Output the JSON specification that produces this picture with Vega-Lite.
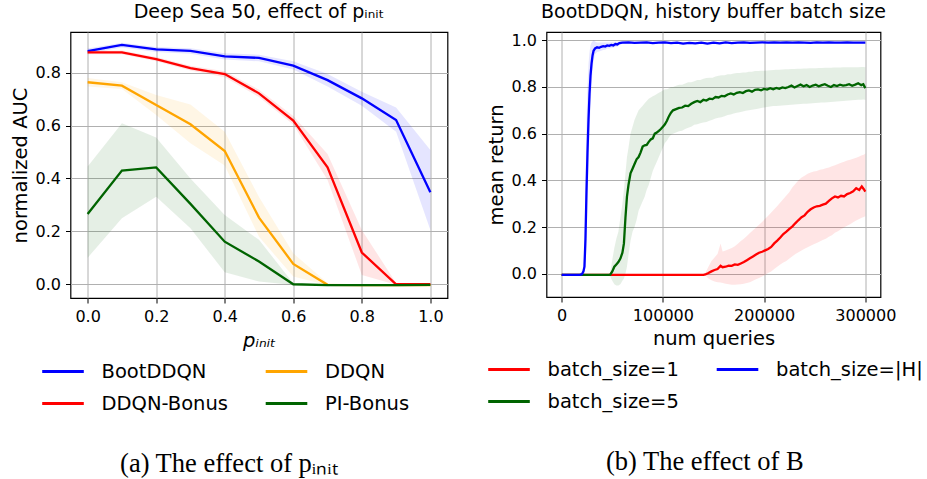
{
  "$schema": "https://vega.github.io/schema/vega-lite/v6.json",
  "padding": {"left": 8.5, "top": 2, "right": 1, "bottom": 2},
  "background": "white",
  "spacing": 36,
  "resolve": {"scale": {"color": "independent", "fill": "independent", "x": "independent", "y": "independent"}, "legend": {"color": "independent", "fill": "independent"}},
  "config": {
    "font": "DejaVu Sans",
    "view": {"stroke": "black", "strokeWidth": 1.2},
    "axis": {
      "labelFont": "DejaVu Sans", "labelFontSize": 16, "labelColor": "black",
      "titleFont": "DejaVu Sans", "titleFontSize": 19.5, "titleFontWeight": "normal", "titleColor": "black",
      "tickColor": "black", "tickSize": 5, "tickWidth": 1, "labelPadding": 5,
      "grid": true, "gridColor": "#b0b0b0", "gridWidth": 1, "domain": false, "labelOverlap": false
    },
    "legend": {
      "labelFont": "DejaVu Sans", "labelFontSize": 19.5, "labelColor": "black",
      "symbolType": "stroke", "symbolSize": 1730, "symbolStrokeWidth": 3, "labelOffset": 16,
      "rowPadding": -16, "columnPadding": 30.5, "columns": 2
    },
    "title": {"font": "DejaVu Sans", "fontSize": 19, "fontWeight": "normal", "color": "black"}
  },
  "datasets": {
    "left": [
      {"m":"BootDDQN","p":0.0,"y":0.882,"lo":0.872,"hi":0.892},
      {"m":"BootDDQN","p":0.1,"y":0.905,"lo":0.895,"hi":0.913},
      {"m":"BootDDQN","p":0.2,"y":0.888,"lo":0.878,"hi":0.897},
      {"m":"BootDDQN","p":0.3,"y":0.883,"lo":0.872,"hi":0.893},
      {"m":"BootDDQN","p":0.4,"y":0.862,"lo":0.850,"hi":0.874},
      {"m":"BootDDQN","p":0.5,"y":0.856,"lo":0.843,"hi":0.868},
      {"m":"BootDDQN","p":0.6,"y":0.827,"lo":0.812,"hi":0.843},
      {"m":"BootDDQN","p":0.7,"y":0.772,"lo":0.748,"hi":0.795},
      {"m":"BootDDQN","p":0.8,"y":0.703,"lo":0.675,"hi":0.728},
      {"m":"BootDDQN","p":0.9,"y":0.621,"lo":0.577,"hi":0.668},
      {"m":"BootDDQN","p":1.0,"y":0.348,"lo":0.205,"hi":0.508},
      {"m":"DDQN-Bonus","p":0.0,"y":0.877,"lo":0.870,"hi":0.884},
      {"m":"DDQN-Bonus","p":0.1,"y":0.877,"lo":0.870,"hi":0.884},
      {"m":"DDQN-Bonus","p":0.2,"y":0.851,"lo":0.843,"hi":0.859},
      {"m":"DDQN-Bonus","p":0.3,"y":0.817,"lo":0.808,"hi":0.826},
      {"m":"DDQN-Bonus","p":0.4,"y":0.795,"lo":0.783,"hi":0.806},
      {"m":"DDQN-Bonus","p":0.5,"y":0.722,"lo":0.708,"hi":0.736},
      {"m":"DDQN-Bonus","p":0.6,"y":0.619,"lo":0.604,"hi":0.636},
      {"m":"DDQN-Bonus","p":0.7,"y":0.442,"lo":0.394,"hi":0.493},
      {"m":"DDQN-Bonus","p":0.8,"y":0.120,"lo":0.035,"hi":0.205},
      {"m":"DDQN-Bonus","p":0.9,"y":0.000,"lo":-0.002,"hi":0.005},
      {"m":"DDQN-Bonus","p":1.0,"y":0.000,"lo":-0.001,"hi":0.003},
      {"m":"DDQN","p":0.0,"y":0.764,"lo":0.748,"hi":0.780},
      {"m":"DDQN","p":0.1,"y":0.751,"lo":0.738,"hi":0.764},
      {"m":"DDQN","p":0.2,"y":0.678,"lo":0.640,"hi":0.716},
      {"m":"DDQN","p":0.3,"y":0.605,"lo":0.533,"hi":0.680},
      {"m":"DDQN","p":0.4,"y":0.504,"lo":0.449,"hi":0.577},
      {"m":"DDQN","p":0.5,"y":0.252,"lo":0.180,"hi":0.330},
      {"m":"DDQN","p":0.6,"y":0.077,"lo":0.029,"hi":0.117},
      {"m":"DDQN","p":0.7,"y":-0.002,"lo":-0.004,"hi":0.005},
      {"m":"DDQN","p":0.8,"y":-0.003,"lo":-0.004,"hi":-0.002},
      {"m":"DDQN","p":0.9,"y":-0.003,"lo":-0.004,"hi":-0.002},
      {"m":"DDQN","p":1.0,"y":-0.003,"lo":-0.004,"hi":-0.002},
      {"m":"PI-Bonus","p":0.0,"y":0.266,"lo":0.100,"hi":0.445},
      {"m":"PI-Bonus","p":0.1,"y":0.430,"lo":0.250,"hi":0.609},
      {"m":"PI-Bonus","p":0.2,"y":0.442,"lo":0.331,"hi":0.555},
      {"m":"PI-Bonus","p":0.3,"y":0.304,"lo":0.212,"hi":0.400},
      {"m":"PI-Bonus","p":0.4,"y":0.161,"lo":0.045,"hi":0.262},
      {"m":"PI-Bonus","p":0.5,"y":0.086,"lo":0.010,"hi":0.168},
      {"m":"PI-Bonus","p":0.6,"y":0.000,"lo":-0.003,"hi":0.004},
      {"m":"PI-Bonus","p":0.7,"y":-0.003,"lo":-0.004,"hi":-0.002},
      {"m":"PI-Bonus","p":0.8,"y":-0.003,"lo":-0.004,"hi":-0.002},
      {"m":"PI-Bonus","p":0.9,"y":-0.003,"lo":-0.004,"hi":-0.002},
      {"m":"PI-Bonus","p":1.0,"y":-0.002,"lo":-0.003,"hi":-0.001}
    ],
    "right": [
      {"s":"batch_size=1","x":0,"y":-0.005,"lo":-0.006,"hi":-0.004},
      {"s":"batch_size=1","x":50000,"y":-0.005,"lo":-0.006,"hi":-0.004},
      {"s":"batch_size=1","x":100000,"y":-0.005,"lo":-0.006,"hi":-0.004},
      {"s":"batch_size=1","x":140000,"y":-0.005,"lo":-0.006,"hi":-0.004},
      {"s":"batch_size=1","x":142000,"y":-0.003,"lo":-0.008,"hi":0.004},
      {"s":"batch_size=1","x":145000,"y":0.003,"lo":-0.02,"hi":0.03},
      {"s":"batch_size=1","x":148000,"y":0.01,"lo":-0.028,"hi":0.055},
      {"s":"batch_size=1","x":151000,"y":0.016,"lo":-0.033,"hi":0.07},
      {"s":"batch_size=1","x":154000,"y":0.02,"lo":-0.036,"hi":0.085},
      {"s":"batch_size=1","x":157000,"y":0.034,"lo":-0.038,"hi":0.13},
      {"s":"batch_size=1","x":159000,"y":0.028,"lo":-0.04,"hi":0.095},
      {"s":"batch_size=1","x":162000,"y":0.03,"lo":-0.043,"hi":0.1},
      {"s":"batch_size=1","x":165000,"y":0.035,"lo":-0.045,"hi":0.105},
      {"s":"batch_size=1","x":168000,"y":0.034,"lo":-0.047,"hi":0.11},
      {"s":"batch_size=1","x":171000,"y":0.04,"lo":-0.047,"hi":0.118},
      {"s":"batch_size=1","x":174000,"y":0.038,"lo":-0.046,"hi":0.128},
      {"s":"batch_size=1","x":177000,"y":0.044,"lo":-0.045,"hi":0.14},
      {"s":"batch_size=1","x":180000,"y":0.05,"lo":-0.043,"hi":0.15},
      {"s":"batch_size=1","x":183000,"y":0.058,"lo":-0.04,"hi":0.162},
      {"s":"batch_size=1","x":186000,"y":0.066,"lo":-0.036,"hi":0.174},
      {"s":"batch_size=1","x":189000,"y":0.074,"lo":-0.03,"hi":0.186},
      {"s":"batch_size=1","x":192000,"y":0.082,"lo":-0.024,"hi":0.198},
      {"s":"batch_size=1","x":195000,"y":0.09,"lo":-0.018,"hi":0.21},
      {"s":"batch_size=1","x":198000,"y":0.094,"lo":-0.012,"hi":0.222},
      {"s":"batch_size=1","x":201000,"y":0.1,"lo":-0.005,"hi":0.235},
      {"s":"batch_size=1","x":204000,"y":0.106,"lo":0.003,"hi":0.248},
      {"s":"batch_size=1","x":207000,"y":0.115,"lo":0.01,"hi":0.262},
      {"s":"batch_size=1","x":210000,"y":0.13,"lo":0.02,"hi":0.276},
      {"s":"batch_size=1","x":213000,"y":0.142,"lo":0.03,"hi":0.29},
      {"s":"batch_size=1","x":216000,"y":0.155,"lo":0.04,"hi":0.305},
      {"s":"batch_size=1","x":219000,"y":0.17,"lo":0.048,"hi":0.32},
      {"s":"batch_size=1","x":222000,"y":0.18,"lo":0.055,"hi":0.335},
      {"s":"batch_size=1","x":225000,"y":0.192,"lo":0.065,"hi":0.35},
      {"s":"batch_size=1","x":228000,"y":0.203,"lo":0.075,"hi":0.37},
      {"s":"batch_size=1","x":231000,"y":0.217,"lo":0.085,"hi":0.385},
      {"s":"batch_size=1","x":234000,"y":0.23,"lo":0.092,"hi":0.4},
      {"s":"batch_size=1","x":237000,"y":0.242,"lo":0.1,"hi":0.412},
      {"s":"batch_size=1","x":240000,"y":0.25,"lo":0.107,"hi":0.42},
      {"s":"batch_size=1","x":243000,"y":0.265,"lo":0.113,"hi":0.428},
      {"s":"batch_size=1","x":246000,"y":0.276,"lo":0.12,"hi":0.434},
      {"s":"batch_size=1","x":249000,"y":0.284,"lo":0.126,"hi":0.438},
      {"s":"batch_size=1","x":252000,"y":0.289,"lo":0.132,"hi":0.44},
      {"s":"batch_size=1","x":255000,"y":0.291,"lo":0.138,"hi":0.445},
      {"s":"batch_size=1","x":258000,"y":0.296,"lo":0.145,"hi":0.448},
      {"s":"batch_size=1","x":261000,"y":0.3,"lo":0.15,"hi":0.452},
      {"s":"batch_size=1","x":264000,"y":0.312,"lo":0.158,"hi":0.455},
      {"s":"batch_size=1","x":267000,"y":0.323,"lo":0.165,"hi":0.46},
      {"s":"batch_size=1","x":270000,"y":0.331,"lo":0.175,"hi":0.465},
      {"s":"batch_size=1","x":273000,"y":0.327,"lo":0.182,"hi":0.47},
      {"s":"batch_size=1","x":276000,"y":0.334,"lo":0.19,"hi":0.475},
      {"s":"batch_size=1","x":279000,"y":0.331,"lo":0.198,"hi":0.48},
      {"s":"batch_size=1","x":282000,"y":0.341,"lo":0.205,"hi":0.485},
      {"s":"batch_size=1","x":285000,"y":0.346,"lo":0.212,"hi":0.488},
      {"s":"batch_size=1","x":288000,"y":0.353,"lo":0.22,"hi":0.492},
      {"s":"batch_size=1","x":291000,"y":0.366,"lo":0.228,"hi":0.497},
      {"s":"batch_size=1","x":294000,"y":0.359,"lo":0.234,"hi":0.502},
      {"s":"batch_size=1","x":296500,"y":0.374,"lo":0.24,"hi":0.507},
      {"s":"batch_size=1","x":298500,"y":0.362,"lo":0.243,"hi":0.51},
      {"s":"batch_size=1","x":300000,"y":0.352,"lo":0.246,"hi":0.515},
      {"s":"batch_size=5","x":0,"y":-0.005,"lo":-0.006,"hi":-0.004},
      {"s":"batch_size=5","x":20000,"y":-0.005,"lo":-0.006,"hi":-0.004},
      {"s":"batch_size=5","x":40000,"y":-0.005,"lo":-0.006,"hi":-0.004},
      {"s":"batch_size=5","x":46000,"y":-0.005,"lo":-0.008,"hi":-0.002},
      {"s":"batch_size=5","x":48000,"y":-0.004,"lo":-0.012,"hi":0.005},
      {"s":"batch_size=5","x":50000,"y":0.01,"lo":-0.03,"hi":0.06},
      {"s":"batch_size=5","x":52000,"y":0.03,"lo":-0.045,"hi":0.11},
      {"s":"batch_size=5","x":54000,"y":0.04,"lo":-0.05,"hi":0.15},
      {"s":"batch_size=5","x":56000,"y":0.05,"lo":-0.05,"hi":0.18},
      {"s":"batch_size=5","x":58000,"y":0.065,"lo":-0.045,"hi":0.24},
      {"s":"batch_size=5","x":60000,"y":0.09,"lo":-0.03,"hi":0.3},
      {"s":"batch_size=5","x":61500,"y":0.13,"lo":-0.02,"hi":0.36},
      {"s":"batch_size=5","x":63000,"y":0.24,"lo":0.0,"hi":0.43},
      {"s":"batch_size=5","x":64500,"y":0.33,"lo":0.03,"hi":0.5},
      {"s":"batch_size=5","x":66000,"y":0.38,"lo":0.08,"hi":0.54},
      {"s":"batch_size=5","x":68000,"y":0.43,"lo":0.14,"hi":0.6},
      {"s":"batch_size=5","x":70000,"y":0.45,"lo":0.18,"hi":0.63},
      {"s":"batch_size=5","x":72000,"y":0.47,"lo":0.2,"hi":0.66},
      {"s":"batch_size=5","x":74000,"y":0.49,"lo":0.23,"hi":0.68},
      {"s":"batch_size=5","x":76000,"y":0.5,"lo":0.27,"hi":0.7},
      {"s":"batch_size=5","x":78000,"y":0.52,"lo":0.29,"hi":0.71},
      {"s":"batch_size=5","x":80000,"y":0.545,"lo":0.31,"hi":0.72},
      {"s":"batch_size=5","x":82000,"y":0.55,"lo":0.33,"hi":0.73},
      {"s":"batch_size=5","x":84000,"y":0.552,"lo":0.36,"hi":0.74},
      {"s":"batch_size=5","x":86000,"y":0.565,"lo":0.38,"hi":0.75},
      {"s":"batch_size=5","x":88000,"y":0.575,"lo":0.41,"hi":0.755},
      {"s":"batch_size=5","x":90000,"y":0.58,"lo":0.44,"hi":0.76},
      {"s":"batch_size=5","x":92000,"y":0.6,"lo":0.46,"hi":0.765},
      {"s":"batch_size=5","x":94000,"y":0.605,"lo":0.48,"hi":0.77},
      {"s":"batch_size=5","x":96000,"y":0.612,"lo":0.5,"hi":0.775},
      {"s":"batch_size=5","x":98000,"y":0.62,"lo":0.52,"hi":0.78},
      {"s":"batch_size=5","x":100000,"y":0.63,"lo":0.54,"hi":0.785},
      {"s":"batch_size=5","x":102000,"y":0.64,"lo":0.56,"hi":0.79},
      {"s":"batch_size=5","x":104000,"y":0.655,"lo":0.57,"hi":0.79},
      {"s":"batch_size=5","x":106000,"y":0.675,"lo":0.585,"hi":0.795},
      {"s":"batch_size=5","x":108000,"y":0.69,"lo":0.595,"hi":0.8},
      {"s":"batch_size=5","x":110000,"y":0.7,"lo":0.6,"hi":0.8},
      {"s":"batch_size=5","x":113000,"y":0.705,"lo":0.605,"hi":0.805},
      {"s":"batch_size=5","x":116000,"y":0.71,"lo":0.61,"hi":0.81},
      {"s":"batch_size=5","x":119000,"y":0.712,"lo":0.612,"hi":0.81},
      {"s":"batch_size=5","x":122000,"y":0.72,"lo":0.62,"hi":0.815},
      {"s":"batch_size=5","x":125000,"y":0.718,"lo":0.625,"hi":0.82},
      {"s":"batch_size=5","x":128000,"y":0.728,"lo":0.63,"hi":0.82},
      {"s":"batch_size=5","x":131000,"y":0.735,"lo":0.638,"hi":0.825},
      {"s":"batch_size=5","x":134000,"y":0.74,"lo":0.64,"hi":0.83},
      {"s":"batch_size=5","x":137000,"y":0.735,"lo":0.645,"hi":0.83},
      {"s":"batch_size=5","x":140000,"y":0.745,"lo":0.648,"hi":0.835},
      {"s":"batch_size=5","x":143000,"y":0.742,"lo":0.65,"hi":0.838},
      {"s":"batch_size=5","x":146000,"y":0.75,"lo":0.655,"hi":0.84},
      {"s":"batch_size=5","x":149000,"y":0.748,"lo":0.66,"hi":0.84},
      {"s":"batch_size=5","x":152000,"y":0.757,"lo":0.665,"hi":0.845},
      {"s":"batch_size=5","x":155000,"y":0.755,"lo":0.668,"hi":0.848},
      {"s":"batch_size=5","x":158000,"y":0.762,"lo":0.67,"hi":0.85},
      {"s":"batch_size=5","x":161000,"y":0.76,"lo":0.675,"hi":0.85},
      {"s":"batch_size=5","x":164000,"y":0.768,"lo":0.68,"hi":0.855},
      {"s":"batch_size=5","x":167000,"y":0.772,"lo":0.682,"hi":0.855},
      {"s":"batch_size=5","x":170000,"y":0.768,"lo":0.686,"hi":0.858},
      {"s":"batch_size=5","x":173000,"y":0.775,"lo":0.69,"hi":0.86},
      {"s":"batch_size=5","x":176000,"y":0.778,"lo":0.692,"hi":0.86},
      {"s":"batch_size=5","x":179000,"y":0.774,"lo":0.695,"hi":0.862},
      {"s":"batch_size=5","x":182000,"y":0.782,"lo":0.698,"hi":0.862},
      {"s":"batch_size=5","x":185000,"y":0.785,"lo":0.7,"hi":0.865},
      {"s":"batch_size=5","x":188000,"y":0.78,"lo":0.702,"hi":0.865},
      {"s":"batch_size=5","x":191000,"y":0.788,"lo":0.705,"hi":0.868},
      {"s":"batch_size=5","x":194000,"y":0.79,"lo":0.707,"hi":0.868},
      {"s":"batch_size=5","x":197000,"y":0.786,"lo":0.71,"hi":0.87},
      {"s":"batch_size=5","x":200000,"y":0.792,"lo":0.712,"hi":0.87},
      {"s":"batch_size=5","x":203000,"y":0.789,"lo":0.714,"hi":0.871},
      {"s":"batch_size=5","x":206000,"y":0.795,"lo":0.716,"hi":0.872},
      {"s":"batch_size=5","x":209000,"y":0.79,"lo":0.718,"hi":0.873},
      {"s":"batch_size=5","x":212000,"y":0.796,"lo":0.718,"hi":0.874},
      {"s":"batch_size=5","x":215000,"y":0.792,"lo":0.72,"hi":0.874},
      {"s":"batch_size=5","x":218000,"y":0.798,"lo":0.721,"hi":0.875},
      {"s":"batch_size=5","x":221000,"y":0.795,"lo":0.722,"hi":0.876},
      {"s":"batch_size=5","x":224000,"y":0.8,"lo":0.723,"hi":0.876},
      {"s":"batch_size=5","x":227000,"y":0.806,"lo":0.724,"hi":0.877},
      {"s":"batch_size=5","x":230000,"y":0.798,"lo":0.725,"hi":0.877},
      {"s":"batch_size=5","x":233000,"y":0.804,"lo":0.726,"hi":0.878},
      {"s":"batch_size=5","x":236000,"y":0.81,"lo":0.727,"hi":0.878},
      {"s":"batch_size=5","x":239000,"y":0.803,"lo":0.728,"hi":0.879},
      {"s":"batch_size=5","x":242000,"y":0.808,"lo":0.728,"hi":0.879},
      {"s":"batch_size=5","x":245000,"y":0.8,"lo":0.729,"hi":0.88},
      {"s":"batch_size=5","x":248000,"y":0.806,"lo":0.73,"hi":0.88},
      {"s":"batch_size=5","x":251000,"y":0.81,"lo":0.731,"hi":0.88},
      {"s":"batch_size=5","x":254000,"y":0.803,"lo":0.732,"hi":0.881},
      {"s":"batch_size=5","x":257000,"y":0.808,"lo":0.733,"hi":0.881},
      {"s":"batch_size=5","x":260000,"y":0.812,"lo":0.734,"hi":0.882},
      {"s":"batch_size=5","x":263000,"y":0.805,"lo":0.735,"hi":0.882},
      {"s":"batch_size=5","x":266000,"y":0.8,"lo":0.736,"hi":0.882},
      {"s":"batch_size=5","x":269000,"y":0.808,"lo":0.737,"hi":0.883},
      {"s":"batch_size=5","x":272000,"y":0.804,"lo":0.738,"hi":0.883},
      {"s":"batch_size=5","x":275000,"y":0.81,"lo":0.739,"hi":0.883},
      {"s":"batch_size=5","x":278000,"y":0.806,"lo":0.74,"hi":0.884},
      {"s":"batch_size=5","x":281000,"y":0.808,"lo":0.741,"hi":0.884},
      {"s":"batch_size=5","x":284000,"y":0.812,"lo":0.742,"hi":0.884},
      {"s":"batch_size=5","x":287000,"y":0.805,"lo":0.743,"hi":0.885},
      {"s":"batch_size=5","x":290000,"y":0.81,"lo":0.744,"hi":0.885},
      {"s":"batch_size=5","x":293000,"y":0.816,"lo":0.745,"hi":0.885},
      {"s":"batch_size=5","x":296000,"y":0.808,"lo":0.745,"hi":0.886},
      {"s":"batch_size=5","x":298000,"y":0.812,"lo":0.746,"hi":0.886},
      {"s":"batch_size=5","x":300000,"y":0.795,"lo":0.745,"hi":0.885},
      {"s":"batch_size=|H|","x":0,"y":-0.005,"lo":-0.006,"hi":-0.004},
      {"s":"batch_size=|H|","x":6000,"y":-0.005,"lo":-0.006,"hi":-0.004},
      {"s":"batch_size=|H|","x":12000,"y":-0.005,"lo":-0.006,"hi":-0.004},
      {"s":"batch_size=|H|","x":18000,"y":-0.005,"lo":-0.006,"hi":-0.004},
      {"s":"batch_size=|H|","x":20000,"y":-0.002,"lo":-0.005,"hi":0.003},
      {"s":"batch_size=|H|","x":21500,"y":0.01,"lo":-0.003,"hi":0.04},
      {"s":"batch_size=|H|","x":22500,"y":0.03,"lo":0.0,"hi":0.1},
      {"s":"batch_size=|H|","x":23500,"y":0.15,"lo":0.03,"hi":0.4},
      {"s":"batch_size=|H|","x":24500,"y":0.35,"lo":0.12,"hi":0.65},
      {"s":"batch_size=|H|","x":25500,"y":0.52,"lo":0.3,"hi":0.8},
      {"s":"batch_size=|H|","x":26500,"y":0.66,"lo":0.45,"hi":0.9},
      {"s":"batch_size=|H|","x":27500,"y":0.77,"lo":0.6,"hi":0.95},
      {"s":"batch_size=|H|","x":28500,"y":0.85,"lo":0.72,"hi":0.98},
      {"s":"batch_size=|H|","x":29500,"y":0.9,"lo":0.8,"hi":0.99},
      {"s":"batch_size=|H|","x":30500,"y":0.935,"lo":0.87,"hi":0.995},
      {"s":"batch_size=|H|","x":31500,"y":0.955,"lo":0.91,"hi":1.0},
      {"s":"batch_size=|H|","x":33000,"y":0.965,"lo":0.94,"hi":0.995},
      {"s":"batch_size=|H|","x":35000,"y":0.97,"lo":0.95,"hi":0.99},
      {"s":"batch_size=|H|","x":37000,"y":0.968,"lo":0.952,"hi":0.99},
      {"s":"batch_size=|H|","x":39000,"y":0.972,"lo":0.955,"hi":0.99},
      {"s":"batch_size=|H|","x":41000,"y":0.975,"lo":0.958,"hi":0.99},
      {"s":"batch_size=|H|","x":43000,"y":0.973,"lo":0.96,"hi":0.99},
      {"s":"batch_size=|H|","x":45000,"y":0.978,"lo":0.965,"hi":0.99},
      {"s":"batch_size=|H|","x":47000,"y":0.976,"lo":0.965,"hi":0.991},
      {"s":"batch_size=|H|","x":49000,"y":0.98,"lo":0.968,"hi":0.992},
      {"s":"batch_size=|H|","x":51000,"y":0.978,"lo":0.968,"hi":0.992},
      {"s":"batch_size=|H|","x":53000,"y":0.984,"lo":0.972,"hi":0.994},
      {"s":"batch_size=|H|","x":55000,"y":0.982,"lo":0.972,"hi":0.994},
      {"s":"batch_size=|H|","x":57000,"y":0.988,"lo":0.98,"hi":0.995},
      {"s":"batch_size=|H|","x":60000,"y":0.99,"lo":0.985,"hi":0.995},
      {"s":"batch_size=|H|","x":66000,"y":0.991,"lo":0.987,"hi":0.995},
      {"s":"batch_size=|H|","x":72000,"y":0.989,"lo":0.985,"hi":0.993},
      {"s":"batch_size=|H|","x":78000,"y":0.99,"lo":0.986,"hi":0.994},
      {"s":"batch_size=|H|","x":84000,"y":0.991,"lo":0.987,"hi":0.995},
      {"s":"batch_size=|H|","x":90000,"y":0.988,"lo":0.984,"hi":0.992},
      {"s":"batch_size=|H|","x":96000,"y":0.99,"lo":0.986,"hi":0.994},
      {"s":"batch_size=|H|","x":102000,"y":0.991,"lo":0.987,"hi":0.995},
      {"s":"batch_size=|H|","x":108000,"y":0.988,"lo":0.984,"hi":0.992},
      {"s":"batch_size=|H|","x":114000,"y":0.99,"lo":0.986,"hi":0.994},
      {"s":"batch_size=|H|","x":120000,"y":0.986,"lo":0.982,"hi":0.99},
      {"s":"batch_size=|H|","x":126000,"y":0.989,"lo":0.985,"hi":0.993},
      {"s":"batch_size=|H|","x":132000,"y":0.987,"lo":0.983,"hi":0.991},
      {"s":"batch_size=|H|","x":138000,"y":0.99,"lo":0.986,"hi":0.994},
      {"s":"batch_size=|H|","x":144000,"y":0.986,"lo":0.982,"hi":0.99},
      {"s":"batch_size=|H|","x":150000,"y":0.99,"lo":0.986,"hi":0.994},
      {"s":"batch_size=|H|","x":156000,"y":0.987,"lo":0.983,"hi":0.991},
      {"s":"batch_size=|H|","x":162000,"y":0.991,"lo":0.987,"hi":0.995},
      {"s":"batch_size=|H|","x":168000,"y":0.988,"lo":0.984,"hi":0.992},
      {"s":"batch_size=|H|","x":174000,"y":0.99,"lo":0.986,"hi":0.994},
      {"s":"batch_size=|H|","x":180000,"y":0.991,"lo":0.987,"hi":0.995},
      {"s":"batch_size=|H|","x":186000,"y":0.989,"lo":0.985,"hi":0.993},
      {"s":"batch_size=|H|","x":192000,"y":0.99,"lo":0.986,"hi":0.994},
      {"s":"batch_size=|H|","x":198000,"y":0.991,"lo":0.987,"hi":0.995},
      {"s":"batch_size=|H|","x":204000,"y":0.99,"lo":0.986,"hi":0.994},
      {"s":"batch_size=|H|","x":210000,"y":0.991,"lo":0.987,"hi":0.995},
      {"s":"batch_size=|H|","x":216000,"y":0.99,"lo":0.986,"hi":0.994},
      {"s":"batch_size=|H|","x":222000,"y":0.991,"lo":0.987,"hi":0.995},
      {"s":"batch_size=|H|","x":228000,"y":0.99,"lo":0.986,"hi":0.994},
      {"s":"batch_size=|H|","x":234000,"y":0.991,"lo":0.987,"hi":0.995},
      {"s":"batch_size=|H|","x":240000,"y":0.99,"lo":0.986,"hi":0.994},
      {"s":"batch_size=|H|","x":246000,"y":0.989,"lo":0.985,"hi":0.993},
      {"s":"batch_size=|H|","x":252000,"y":0.991,"lo":0.987,"hi":0.995},
      {"s":"batch_size=|H|","x":258000,"y":0.99,"lo":0.986,"hi":0.994},
      {"s":"batch_size=|H|","x":264000,"y":0.991,"lo":0.987,"hi":0.995},
      {"s":"batch_size=|H|","x":270000,"y":0.99,"lo":0.986,"hi":0.994},
      {"s":"batch_size=|H|","x":276000,"y":0.99,"lo":0.986,"hi":0.994},
      {"s":"batch_size=|H|","x":282000,"y":0.991,"lo":0.987,"hi":0.995},
      {"s":"batch_size=|H|","x":288000,"y":0.99,"lo":0.986,"hi":0.994},
      {"s":"batch_size=|H|","x":294000,"y":0.99,"lo":0.986,"hi":0.994},
      {"s":"batch_size=|H|","x":300000,"y":0.99,"lo":0.986,"hi":0.994}
    ]
  },
  "hconcat": [
    {
      "title": {"text": "(a)  The effect of pᵢₙᵢₜ", "orient": "bottom", "anchor": "middle", "frame": "bounds", "font": "Liberation Serif", "fontSize": 26.5, "fontWeight": "normal", "offset": 37},
      "resolve": {"legend": {"color": "independent", "fill": "independent"}},
      "vconcat": [
        {
          "width": 377,
          "height": 266,
          "title": {"text": "Deep Sea 50, effect of pᵢₙᵢₜ", "offset": 10},
          "data": {"name": "left"},
          "layer": [
            {
              "mark": {"type": "area", "opacity": 0.1},
              "encoding": {
                "x": {"field": "p", "type": "quantitative"},
                "y": {"field": "lo", "type": "quantitative"},
                "y2": {"field": "hi"},
                "fill": {"field": "m", "type": "nominal", "legend": null,
                  "scale": {"domain": ["DDQN", "BootDDQN", "DDQN-Bonus", "PI-Bonus"], "range": ["#ffa500", "#0000ff", "#ff0000", "#006400"]}}
              }
            },
            {
              "mark": {"type": "line", "strokeWidth": 2.3},
              "encoding": {
                "x": {"field": "p", "type": "quantitative",
                  "scale": {"domain": [-0.05, 1.05], "nice": false, "zero": false},
                  "axis": {"title": "pᵢₙᵢₜ", "titleFontStyle": "italic", "values": [0, 0.2, 0.4, 0.6, 0.8, 1.0], "format": ".1f", "titlePadding": 7}},
                "y": {"field": "y", "type": "quantitative",
                  "scale": {"domain": [-0.052, 0.954], "nice": false, "zero": false},
                  "axis": {"title": "normalized AUC", "values": [0, 0.2, 0.4, 0.6, 0.8], "format": ".1f", "titlePadding": 5}},
                "color": {"field": "m", "type": "nominal",
                  "scale": {"domain": ["BootDDQN", "DDQN-Bonus", "DDQN", "PI-Bonus"], "range": ["#0000ff", "#ff0000", "#ffa500", "#006400"]},
                  "legend": {"title": null, "orient": "none", "legendX": -30, "legendY": 317}}
              }
            }
          ]
        }
      ]
    },
    {
      "title": {"text": "(b)  The effect of B", "orient": "bottom", "anchor": "middle", "frame": "bounds", "font": "Liberation Serif", "fontSize": 26.5, "fontWeight": "normal", "offset": 37},
      "resolve": {"legend": {"color": "independent", "fill": "independent"}},
      "vconcat": [
        {
          "width": 334,
          "height": 265,
          "title": {"text": "BootDDQN, history buffer batch size", "offset": 10},
          "data": {"name": "right"},
          "layer": [
            {
              "mark": {"type": "area", "opacity": 0.1},
              "encoding": {
                "x": {"field": "x", "type": "quantitative"},
                "y": {"field": "lo", "type": "quantitative"},
                "y2": {"field": "hi"},
                "fill": {"field": "s", "type": "nominal", "legend": null,
                  "scale": {"domain": ["batch_size=5", "batch_size=1", "batch_size=|H|"], "range": ["#006400", "#ff0000", "#0000ff"]}}
              }
            },
            {
              "mark": {"type": "line", "strokeWidth": 2.3},
              "encoding": {
                "x": {"field": "x", "type": "quantitative",
                  "scale": {"domain": [-15000, 315000], "nice": false, "zero": false},
                  "axis": {"title": "num queries", "values": [0, 100000, 200000, 300000], "format": "d", "titlePadding": 6}},
                "y": {"field": "y", "type": "quantitative",
                  "scale": {"domain": [-0.0997, 1.0355], "nice": false, "zero": false},
                  "axis": {"title": "mean return", "values": [0, 0.2, 0.4, 0.6, 0.8, 1.0], "format": ".1f", "titlePadding": 5}},
                "color": {"field": "s", "type": "nominal",
                  "scale": {"domain": ["batch_size=1", "batch_size=5", "batch_size=|H|"], "range": ["#ff0000", "#006400", "#0000ff"]},
                  "legend": {"title": null, "orient": "none", "legendX": -60, "legendY": 315}}
              }
            }
          ]
        }
      ]
    }
  ]
}
